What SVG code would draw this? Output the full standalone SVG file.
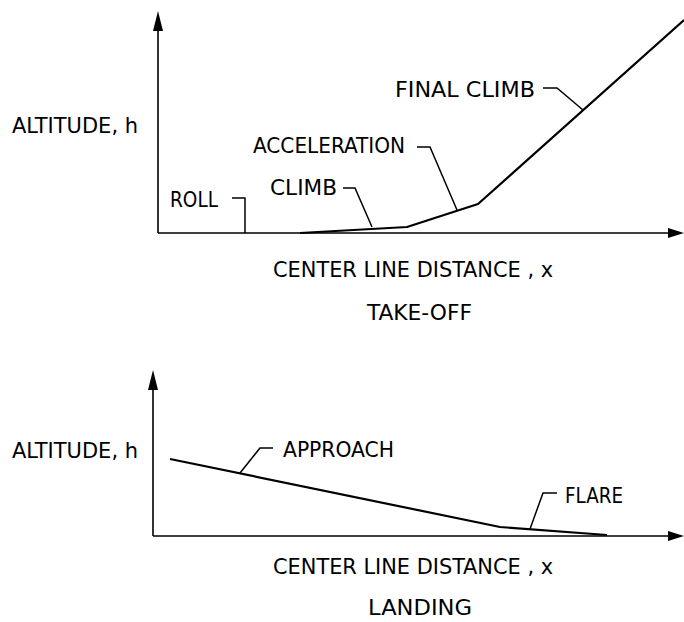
<svg xmlns="http://www.w3.org/2000/svg" width="684" height="622" viewBox="0 0 684 622">
<style>
text{font-family:"DejaVu Sans Condensed","Liberation Sans Narrow","Liberation Sans",sans-serif;font-size:22px;fill:#000}
.ax{stroke:#000;stroke-width:1.6;fill:none}
.cv{stroke:#000;stroke-width:2.2;fill:none;stroke-linejoin:round}
.ld{stroke:#000;stroke-width:1.5;fill:none}
</style>
<rect width="684" height="622" fill="#fff"/>
<g id="takeoff-axes">
<path class="ax" d="M158,233 V28 M158,233 H672"/>
<path d="M158,11 L153,31 L163,31 Z M684,233 L668,228 L668,238 Z" fill="#000"/>
</g>
<g id="takeoff-curve"><path class="cv" d="M300,233 L407,227 L478,204 L684,20"/></g>
<g id="takeoff-labels">
<text x="12" y="133" textLength="126" lengthAdjust="spacingAndGlyphs">ALTITUDE, h</text>
<text x="395" y="97" textLength="140" lengthAdjust="spacingAndGlyphs">FINAL CLIMB</text>
<text x="253" y="153" textLength="152" lengthAdjust="spacingAndGlyphs">ACCELERATION</text>
<text x="270" y="195" textLength="67" lengthAdjust="spacingAndGlyphs">CLIMB</text>
<text x="170" y="207" textLength="48" lengthAdjust="spacingAndGlyphs">ROLL</text>
<text x="273" y="277" textLength="280" lengthAdjust="spacingAndGlyphs">CENTER LINE DISTANCE , x</text>
<text x="367" y="320" textLength="105" lengthAdjust="spacingAndGlyphs">TAKE-OFF</text>
</g>
<g id="connectors">
<path class="ld" d="M543,88 L557,88 L583,110"/>
<path class="ld" d="M417,147 L430,147 L457,210"/>
<path class="ld" d="M343,188 L355,188 L372,227"/>
<path class="ld" d="M232,198 L245,198 L245,233"/>
<path class="ld" d="M273,448 L260,448 L240,473"/>
<path class="ld" d="M557,493 L543,493 L530,529"/>
</g>
<g id="landing-axes">
<path class="ax" d="M153,536 V388 M153,536 H672"/>
<path d="M153,370 L148,390 L158,390 Z M684,536 L668,531 L668,541 Z" fill="#000"/>
</g>
<g id="landing-curve"><path class="cv" d="M170,459 L500,527 L607,535"/></g>
<g id="landing-labels">
<text x="12" y="458" textLength="126" lengthAdjust="spacingAndGlyphs">ALTITUDE, h</text>
<text x="283" y="457" textLength="111" lengthAdjust="spacingAndGlyphs">APPROACH</text>
<text x="565" y="503" textLength="58" lengthAdjust="spacingAndGlyphs">FLARE</text>
<text x="273" y="574" textLength="280" lengthAdjust="spacingAndGlyphs">CENTER LINE DISTANCE , x</text>
<text x="368" y="615" textLength="104" lengthAdjust="spacingAndGlyphs">LANDING</text>
</g>
</svg>
